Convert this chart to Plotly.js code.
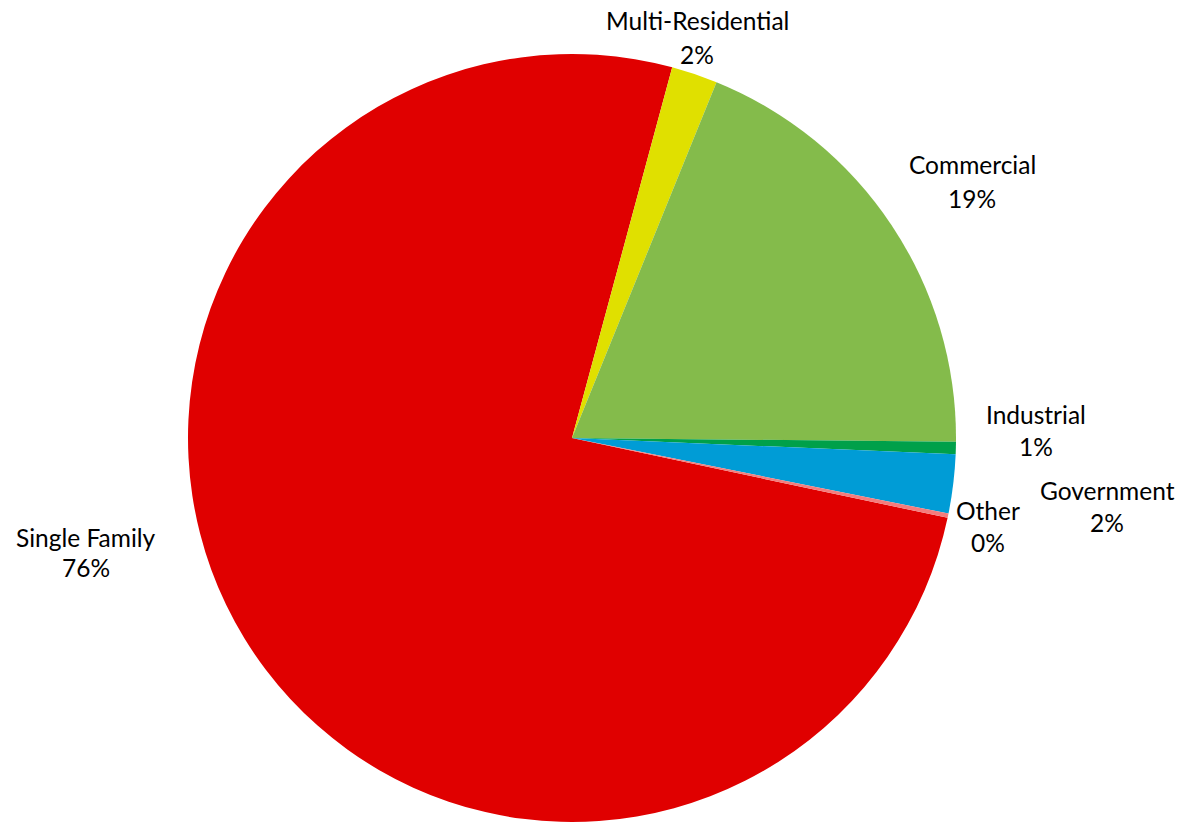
<!DOCTYPE html>
<html>
<head>
<meta charset="utf-8">
<script src="https://cdn.plot.ly/plotly-3.0.1.min.js"></script>
<style>html,body{margin:0;padding:0;background:#fff;}#chart{width:1184px;height:823px;}</style>
</head>
<body>
<div id="chart"></div>
<script>
// Data
const categories = ["Single Family", "Multi-Residential", "Commercial", "Industrial", "Government", "Other"];
const shares = [75.93, 1.94, 19.03, 0.52, 2.48, 0.18];
const sliceColors = ["#E00000", "#E0E000", "#84BB4B", "#00A04A", "#009CD6", "#F47C7C"];

// Label layout (pixel centres of name line and percent line)
const W = 1184, H = 823;
const labelPos = {
  "Single Family":     {x: 86,   y1: 537, y2: 567},
  "Multi-Residential": {x: 697,  y1: 21,  y2: 54},
  "Commercial":        {x: 972,  y1: 165, y2: 198},
  "Industrial":        {x: 1036, y1: 414, y2: 446},
  "Government":        {x: 1107, y1: 490, y2: 522},
  "Other":             {x: 988,  y1: 510, y2: 542}
};

const total = shares.reduce((a, b) => a + b, 0);
const font = {family: "Lato, 'Open Sans', sans-serif", size: 24.5, color: "#000"};
const annotations = [];
categories.forEach((c, i) => {
  const p = labelPos[c];
  const pct = Math.round(shares[i] / total * 100) + "%";
  annotations.push({xref: "paper", yref: "paper", x: p.x / W, y: 1 - p.y1 / H, xanchor: "center", yanchor: "middle", text: c, showarrow: false, font: font});
  annotations.push({xref: "paper", yref: "paper", x: p.x / W, y: 1 - p.y2 / H, xanchor: "center", yanchor: "middle", text: pct, showarrow: false, font: font});
});

const trace = {
  type: "pie",
  labels: categories,
  values: shares,
  sort: false,
  direction: "clockwise",
  rotation: 102,
  marker: {colors: sliceColors, line: {width: 0}},
  textinfo: "none",
  hoverinfo: "label+percent",
  domain: {x: [188 / W, 956 / W], y: [1 - 822 / H, 1 - 54 / H]},
  showlegend: false
};

const layout = {
  width: W, height: H,
  margin: {l: 0, r: 0, t: 0, b: 0},
  paper_bgcolor: "#ffffff",
  showlegend: false,
  annotations: annotations
};

Plotly.newPlot("chart", [trace], layout, {displayModeBar: false, staticPlot: true});
</script>
</body>
</html>
